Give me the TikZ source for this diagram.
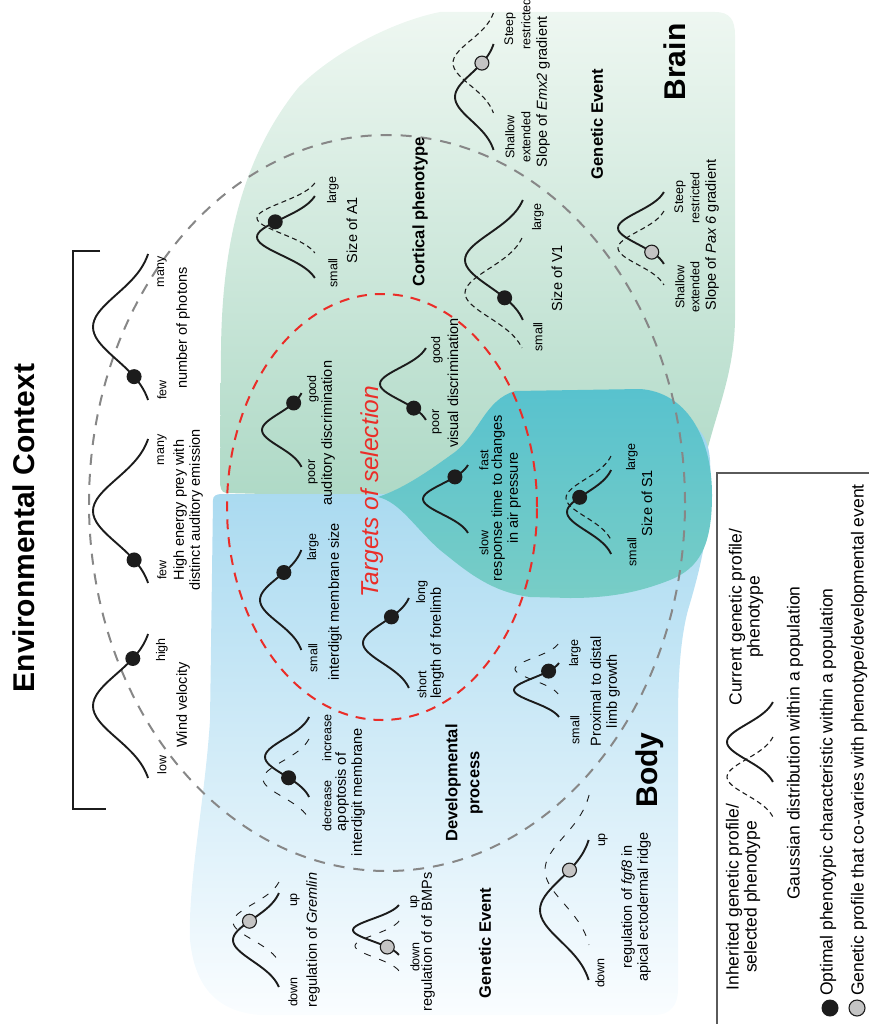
\documentclass[tikz,border=0pt]{standalone}
\usepackage{fontspec}
\setmainfont{Liberation Sans}
\definecolor{ink}{RGB}{28,28,28}
\definecolor{ctxgrey}{RGB}{135,135,135}
\definecolor{selred}{RGB}{234,45,40}
\definecolor{brainhi}{RGB}{238,247,241}
\definecolor{brainmid}{RGB}{212,236,224}
\definecolor{brainlo}{RGB}{174,217,198}
\definecolor{bodyhi}{RGB}{158,213,238}
\definecolor{bodymid}{RGB}{200,232,245}
\definecolor{bodylo}{RGB}{250,253,255}
\definecolor{tealhi}{RGB}{88,194,206}
\definecolor{teallo}{RGB}{120,205,198}
\definecolor{covgrey}{RGB}{196,196,196}
\definecolor{boxline}{RGB}{90,90,90}
\tikzstyle{profile} = [line width=1.9pt, draw=ink]
\tikzstyle{inherited} = [line width=1.1pt, draw=ink, dash pattern=on 5pt off 3.5pt]
\tikzstyle{inheritlong} = [line width=0.9pt, draw=ink, dash pattern=on 7pt off 9pt]
\tikzstyle{optimum} = [circle, fill=ink, inner sep=0pt, minimum size=15pt]
\tikzstyle{covaries} = [circle, draw=ink, line width=1.1pt, fill=covgrey,
inner sep=0pt, minimum size=14pt]
\tikzstyle{context} = [ctxgrey, line width=2pt, dash pattern=on 11pt off 9pt]
\tikzstyle{targets} = [selred, line width=2pt, dash pattern=on 10pt off 8pt]
\tikzstyle{endlabel} = [rotate=90, inner sep=0pt, font=\fontsize{12.5}{13}\selectfont]
\tikzstyle{caption} = [rotate=90, inner sep=0pt, align=center,
font=\fontsize{14.5}{16}\selectfont]
\tikzstyle{heading} = [rotate=90, inner sep=0pt, align=center,
font=\fontsize{16.5}{22}\selectfont\bfseries]
\tikzstyle{bigtitle} = [rotate=90, inner sep=0pt, font=\fontsize{30}{30}\selectfont\bfseries]
\tikzstyle{legendtext} = [rotate=90, inner sep=0pt, align=center,
font=\fontsize{17.5}{18}\selectfont]

% bell curve lying on its side: base x, centre y, half width, height
\newcommand{\bell}[5][profile]{%
  \draw[#1] plot[domain=-1:1, samples=41, smooth] ({#2-#5*exp(-2.5*\x*\x)}, {#3+#4*\x});}
% dot sitting on such a curve at parameter t
\newcommand{\bellnode}[7]{%
  \node[#1] (#2) at ({#3-#6*exp(-2.5*(#7)*(#7))}, {#4+#5*(#7)}) {};}

\begin{document}
\begin{tikzpicture}[x=1pt, y=-1pt]
    \useasboundingbox (0,0) rectangle (868,1024);

    % brain, body and their overlap
    \shade[top color=brainhi, middle color=brainmid, bottom color=brainlo]
        (226,493) .. controls (221,492) and (220,488) .. (220,480)
        -- (221,350) .. controls (222,250) and (240,160) .. (298,88)
        .. controls (330,55) and (390,22) .. (440,12) -- (715,12)
        .. controls (730,12) and (735,20) .. (735,35) -- (735,320)
        .. controls (734,380) and (712,420) .. (703,470)
        -- (700,500) -- (380,497) -- cycle;
    \shade[top color=bodyhi, middle color=bodymid, bottom color=bodylo]
        (213,500) .. controls (213,496) and (216,494) .. (222,494)
        -- (385,494) .. controls (430,485) and (470,440) .. (520,425)
        -- (650,415) .. controls (690,413) and (708,430) .. (710,460)
        .. controls (713,520) and (700,570) .. (688,610)
        .. controls (680,640) and (678,680) .. (678,720) -- (678,990)
        .. controls (678,1005) and (670,1015) .. (655,1015) -- (260,1015)
        .. controls (220,1012) and (195,990) .. (190,940)
        .. controls (188,880) and (205,800) .. (210,720) -- cycle;
    \shade[top color=tealhi, bottom color=teallo]
        (378,497) .. controls (405,488) and (430,470) .. (455,452)
        .. controls (480,432) and (485,400) .. (515,391) -- (640,389)
        .. controls (685,392) and (712,435) .. (712,495)
        .. controls (712,545) and (700,568) .. (670,580)
        .. controls (640,592) and (610,598) .. (570,598) -- (530,597)
        .. controls (490,592) and (465,570) .. (440,550)
        .. controls (415,528) and (400,502) .. (378,497) -- cycle;

    \draw[context] (387,503) ellipse [x radius=298pt, y radius=368pt];
    \draw[targets] (382,507) ellipse [x radius=155pt, y radius=213pt];

    % environmental context
    \node[bigtitle] (envctx) at (24,528) {Environmental Context};
    \draw[line width=2pt, ink] (100,251) -- (73,251) -- (73,809) -- (106,809);

    \bell{153}{327}{73}{60}
    \bellnode{optimum}{photdot}{153}{327}{73}{60}{0.68}
    \node[endlabel] (photfew) at (162,390) {few};
    \node[endlabel] (photmany) at (162,272) {many};
    \node[caption] (photons) at (183,328) {number of photons};

    \bell{153}{511}{72}{60}
    \bellnode{optimum}{preydot}{153}{511}{72}{60}{0.68}
    \node[endlabel] (preyfew) at (162,570) {few};
    \node[endlabel] (preymany) at (162,450) {many};
    \node[caption] (prey) at (188,510) {High energy prey with\\distinct auditory emission};

    \bell{153}{706}{72}{60}
    \bellnode{optimum}{winddot}{153}{706}{72}{60}{-0.66}
    \node[endlabel] (windlow) at (162,765) {low};
    \node[endlabel] (windhigh) at (162,650) {high};
    \node[caption] (wind) at (183,705) {Wind velocity};

    % brain
    \node[bigtitle] (brain) at (675,62) {Brain};
    \node[heading] (cortical) at (420,212) {Cortical phenotype};
    \node[heading] (braingene) at (597,124) {Genetic Event};

    \bell[inherited]{320}{218}{35}{63}
    \bell{320}{237}{41}{63}
    \bellnode{optimum}{adot}{320}{237}{41}{63}{-0.37}
    \node[endlabel] (alarge) at (333,190) {large};
    \node[endlabel] (asmall) at (333,273) {small};
    \node[caption] (sizea) at (352,230) {Size of A1};

    \bell[inherited]{527}{293}{55}{62}
    \bell{528}{260}{60}{63}
    \bellnode{optimum}{vdot}{528}{260}{60}{63}{0.63}
    \node[endlabel] (vlarge) at (538,217) {large};
    \node[endlabel] (vsmall) at (538,337) {small};
    \node[caption] (sizev) at (557,278) {Size of V1};

    \bell[inherited]{497}{63}{50}{44}
    \bell{497}{97}{53}{42}
    \bellnode{covaries}{emxdot}{497}{97}{53}{42}{-0.64}
    \node[endlabel] (emxsteep) at (510,29) {Steep};
    \node[endlabel] (emxrestr) at (526,24) {restricted};
    \node[endlabel] (emxshallow) at (510,137) {Shallow};
    \node[endlabel] (emxext) at (526,137) {extended};
    \node[caption] (emx) at (543,92) {Slope of \textit{Emx2} gradient};

    \bell[inherited]{668}{248}{37}{50}
    \bell{668}{228}{36}{50}
    \bellnode{covaries}{paxdot}{668}{228}{36}{50}{0.67}
    \node[endlabel] (paxsteep) at (680,197) {Steep};
    \node[endlabel] (paxrestr) at (695,198) {restricted};
    \node[endlabel] (paxshallow) at (680,287) {Shallow};
    \node[endlabel] (paxext) at (695,287) {extended};
    \node[caption] (pax) at (712,235) {Slope of \textit{Pax 6} gradient};

    % targets of selection
    \node[rotate=90, inner sep=0pt, text=selred, font=\fontsize{24.5}{25}\selectfont\itshape]
        (targets) at (372,492) {Targets of selection};

    \bell{305}{430}{37}{43}
    \bellnode{optimum}{auddot}{305}{430}{37}{43}{-0.73}
    \node[endlabel] (audgood) at (313,389) {good};
    \node[endlabel] (audpoor) at (313,472) {poor};
    \node[caption] (auditory) at (328,433) {auditory discrimination};

    \bell{430}{384}{36}{50}
    \bellnode{optimum}{visdot}{430}{384}{36}{50}{0.67}
    \node[endlabel] (visgood) at (437,350) {good};
    \node[endlabel] (vispoor) at (437,422) {poor};
    \node[caption] (visual) at (453,383) {visual discrimination};

    \bell{472}{499}{34}{49}
    \bellnode{optimum}{respdot}{472}{499}{34}{49}{-0.65}
    \node[endlabel] (respfast) at (484,460) {fast};
    \node[endlabel] (respslow) at (484,543) {slow};
    \node[caption] (response) at (506,498) {response time to changes\\in air pressure};

    \bell[inherited]{615}{498}{42}{49}
    \bell{615}{512}{42}{48}
    \bellnode{optimum}{sdot}{615}{512}{42}{48}{-0.35}
    \node[endlabel] (slarge) at (632,457) {large};
    \node[endlabel] (ssmall) at (632,552) {small};
    \node[caption] (sizes) at (647,503) {Size of S1};

    \bell{305}{600}{50}{45}
    \bellnode{optimum}{memdot}{305}{600}{50}{45}{-0.55}
    \node[endlabel] (memlarge) at (313,547) {large};
    \node[endlabel] (memsmall) at (313,658) {small};
    \node[caption] (membrane) at (335,602) {interdigit membrane size};

    \bell{413}{643}{45}{50}
    \bellnode{optimum}{limbdot}{413}{643}{45}{50}{-0.58}
    \node[endlabel] (limblong) at (422,592) {long};
    \node[endlabel] (limbshort) at (422,685) {short};
    \node[caption] (forelimb) at (437,643) {length of forelimb};

    % body
    \node[bigtitle] (body) at (650,770) {Body};
    \node[heading] (devproc) at (464,783) {Developmental\\process};
    \node[heading] (bodygene) at (485,943) {Genetic Event};

    \bell[inheritlong]{313}{779}{40}{50}
    \bell{313}{757}{40}{48}
    \bellnode{optimum}{apodot}{313}{757}{40}{48}{0.52}
    \node[endlabel] (apoinc) at (327,738) {increase};
    \node[endlabel] (apodec) at (327,806) {decrease};
    \node[caption] (apoptosis) at (350,792) {apoptosis of\\interdigit membrane};

    \bell[inheritlong]{562}{669}{25}{47}
    \bell{563}{690}{27}{49}
    \bellnode{optimum}{proxdot}{563}{690}{27}{49}{-0.7}
    \node[endlabel] (proxlarge) at (575,653) {large};
    \node[endlabel] (proxsmall) at (575,730) {small};
    \node[caption] (proximal) at (605,691) {Proximal to distal\\limb growth};

    \bell[inheritlong]{283}{922}{40}{50}
    \bell{283}{940}{47}{50}
    \bellnode{covaries}{gremdot}{283}{940}{47}{50}{-0.4}
    \node[endlabel] (gremup) at (295,900) {up};
    \node[endlabel] (gremdown) at (293,992) {down};
    \node[caption] (gremlin) at (313,940) {regulation of \textit{Gremlin}};

    \bell[inheritlong]{403}{946}{25}{48}
    \bell{403}{930}{25}{50}
    \bellnode{covaries}{bmpdot}{403}{930}{25}{50}{0.68}
    \node[endlabel] (bmpup) at (415,902) {up};
    \node[endlabel] (bmpdown) at (415,957) {down};
    \node[caption] (bmps) at (428,942) {regulation of of BMPs};

    \bell[inheritlong]{593}{870}{75}{48}
    \bell{593}{910}{70}{53}
    \bellnode{covaries}{fgfdot}{593}{910}{70}{53}{-0.57}
    \node[endlabel] (fgfup) at (603,840) {up};
    \node[endlabel] (fgfdown) at (600,973) {down};
    \node[caption] (fgf) at (636,907) {regulation of \textit{fgf8} in\\apical ectodermal ridge};

    % legend
    \draw[boxline, line width=1.5pt] (717,1030) -- (717,473) -- (875,473);
    \bell{777}{742}{40}{50}
    \bell[inherited]{777}{777}{40}{50}
    \node[legendtext] (current) at (746,617) {Current genetic profile/\\phenotype};
    \node[legendtext] (inherit) at (743,897) {Inherited genetic profile/\\selected phenotype};
    \node[legendtext] (gauss) at (795,743) {Gaussian distribution within a population};
    \node[legendtext] (optimal) at (828,792) {Optimal phenotypic characteristic within a population};
    \node[legendtext] (covary) at (859,740)
        {Genetic profile that co-varies with phenotype/developmental event};
    \node[optimum, minimum size=17pt] (optkey) at (830,1008) {};
    \node[covaries, minimum size=16pt] (covkey) at (857,1008) {};
\end{tikzpicture}
\end{document}
